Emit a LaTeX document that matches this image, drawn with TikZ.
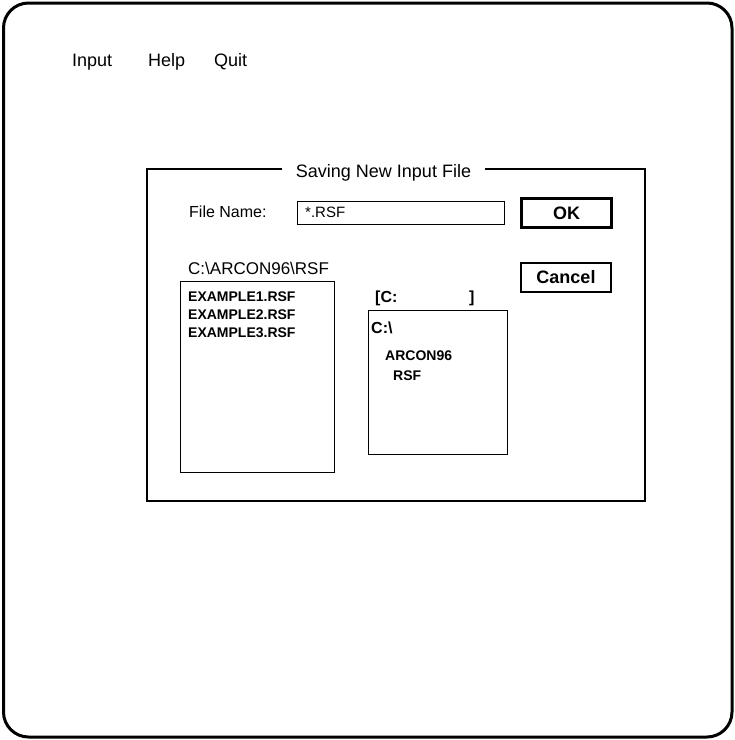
\documentclass[tikz,border=0pt]{standalone}
\usepackage{fontspec}
\setmainfont{Liberation Sans}
\begin{document}
\begin{tikzpicture}[x=1pt,y=-1pt,
  txt/.style={anchor=base west, inner sep=0pt, font=\fontsize{17}{20}\selectfont},
  menutxt/.style={anchor=base west, inner sep=0pt, font=\fontsize{18}{20}\selectfont},
  itemtxt/.style={anchor=base west, inner sep=0pt, font=\bfseries\fontsize{14}{16}\selectfont},
  btn/.style={draw, line width=2.2pt, minimum width=90pt, minimum height=29pt, inner sep=0pt, font=\bfseries\fontsize{18}{20}\selectfont},
  thinbox/.style={draw, line width=1pt},
  frame/.style={draw, line width=3pt, rounded corners=25pt}]
\useasboundingbox (0,0) rectangle (735,740);
% outer window
\draw[frame] (3.5,3) rectangle (732,737);
% menu
\node[menutxt] (minput) at (72,66) {Input};
\node[menutxt] (mhelp) at (148,66) {Help};
\node[menutxt] (mquit) at (214,66) {Quit};
% dialog frame
\draw[line width=2pt] (282,169) -- (147,169) -- (147,501) -- (645,501) -- (645,169) -- (485,169);
\node[anchor=base, inner sep=0pt, font=\fontsize{18}{20}\selectfont] (title) at (383.5,177) {Saving New Input File};
% file name
\node[txt, font=\fontsize{16}{20}\selectfont] (fnlabel) at (189,217) {File Name:};
\draw[thinbox] (297,201) rectangle (504,224);
\node[txt, font=\fontsize{15}{18}\selectfont] (fnvalue) at (305,217) {*.RSF};
% buttons
\node[btn] (ok) at (566.5,213) {OK};
\node[btn] (cancel) at (566,277.5) {Cancel};
% path
\node[txt] (path) at (188,274) {C:\textbackslash ARCON96\textbackslash RSF};
% file list
\draw[thinbox] (180,281) rectangle (334,472);
\node[itemtxt] (f1) at (188,301) {EXAMPLE1.RSF};
\node[itemtxt] (f2) at (188,319) {EXAMPLE2.RSF};
\node[itemtxt] (f3) at (188,337) {EXAMPLE3.RSF};
% drive
\node[txt, font=\bfseries\fontsize{16}{20}\selectfont] (drive) at (375,302) {[C:};
\node[txt, font=\bfseries\fontsize{16}{20}\selectfont] (drivend) at (469,302) {]};
% directory list
\draw[thinbox] (368,310) rectangle (507,454);
\node[txt, font=\bfseries\fontsize{16}{20}\selectfont] (droot) at (371,333) {C:\textbackslash};
\node[itemtxt] (d1) at (385,360) {ARCON96};
\node[itemtxt] (d2) at (393,380) {RSF};
\end{tikzpicture}
\end{document}
